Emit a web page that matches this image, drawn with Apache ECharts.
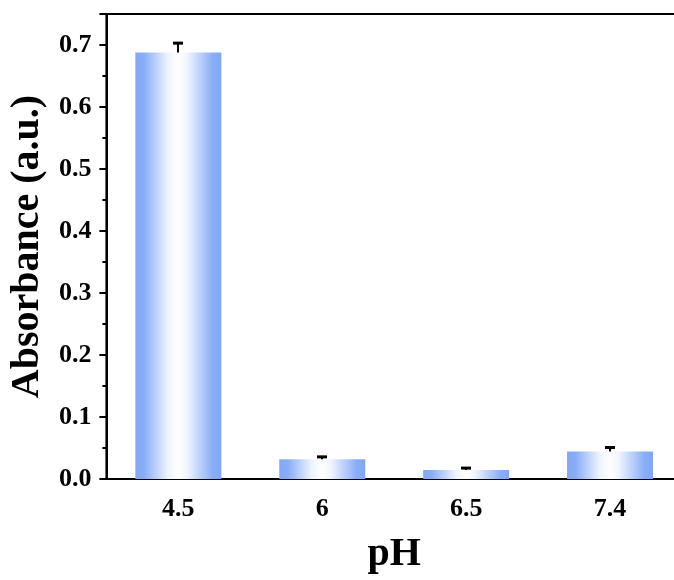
<!DOCTYPE html>
<html>
<head>
<meta charset="utf-8">
<script src="https://cdn.jsdelivr.net/npm/echarts@6/dist/echarts.min.js"></script>
<style>
  html, body { margin: 0; padding: 0; background: #fff; overflow: hidden; }
  /* 右边框在原图之外, 画布比窗口略宽 */
  #chart { width: 682px; height: 580px; }
</style>
</head>
<body>
<div id="chart"></div>
<script>
"use strict";

// pH 类别 / 吸光度均值 / 上误差
const phLabels = ["4.5", "6", "6.5", "7.4"];
const absorbance = [0.688, 0.032, 0.0144, 0.0444];
const errUp = [0.015, 0.0037, 0.0032, 0.0064];
const yTicks = [0, 0.1, 0.2, 0.3, 0.4, 0.5, 0.6, 0.7];

const FONT = "'Liberation Serif', 'Times New Roman', serif";

const barFill = new echarts.graphic.LinearGradient(0, 0, 1, 0, [
  { offset: 0, color: "#80a8f5" },
  { offset: 0.1, color: "#88aef6" },
  { offset: 0.38, color: "#eef4ff" },
  { offset: 0.5, color: "#ffffff" },
  { offset: 0.6, color: "#f0f5ff" },
  { offset: 0.9, color: "#88aef6" },
  { offset: 1, color: "#7fa7f5" },
]);

const chart = echarts.init(document.getElementById("chart"));
chart.setOption({
  animation: false,
  grid: { left: 102, right: 0, top: 14, bottom: 99, show: true, borderColor: "#000", borderWidth: 2 },
  xAxis: [
    {
      type: "category", data: phLabels,
      name: "pH", nameLocation: "middle", nameGap: 56,
      nameTextStyle: { fontFamily: FONT, fontWeight: "bold", fontSize: 40, color: "#000" },
      axisLine: { lineStyle: { color: "#000", width: 2 } },
      axisTick: { alignWithLabel: true, length: 7, lineStyle: { color: "#000", width: 2 } },
      axisLabel: { margin: 17, fontFamily: FONT, fontWeight: "bold", fontSize: 26, color: "#000" },
    },
    {
      // 类别边界处的小刻度
      type: "category", data: phLabels, position: "bottom",
      axisLine: { show: false },
      axisTick: { length: 4, lineStyle: { color: "#000", width: 2 } },
      axisLabel: { show: false },
    },
  ],
  yAxis: {
    type: "value", min: 0, max: 0.75, interval: 0.1,
    name: "Absorbance (a.u.)", nameLocation: "middle", nameGap: 57, nameRotate: 90,
    nameTextStyle: { fontFamily: FONT, fontWeight: "bold", fontSize: 40, color: "#000" },
    axisLine: { show: true, lineStyle: { color: "#000", width: 2 } },
    axisTick: { show: true, length: 7, lineStyle: { color: "#000", width: 2 } },
    minorTick: { show: true, splitNumber: 2, length: 4, lineStyle: { color: "#000", width: 2 } },
    splitLine: { show: false },
    axisLabel: {
      margin: 15, fontFamily: FONT, fontWeight: "bold", fontSize: 26, color: "#000",
      formatter: v => yTicks.some(t => Math.abs(t - v) < 1e-9) ? v.toFixed(1) : "",
    },
  },
  series: [
    {
      type: "bar", data: absorbance, barWidth: 86,
      itemStyle: { color: barFill },
    },
    {
      type: "custom",
      data: absorbance.map((v, i) => [i, v, v + errUp[i]]),
      renderItem: (params, api) => {
        const lo = api.coord([api.value(0), api.value(1)]);
        const hi = api.coord([api.value(0), api.value(2)]);
        const x = Math.round(lo[0]);
        return {
          type: "group",
          children: [
            { type: "line", shape: { x1: x, y1: lo[1], x2: x, y2: hi[1] },
              style: { stroke: "#000", lineWidth: 2 } },
            { type: "line", shape: { x1: x - 5, y1: hi[1], x2: x + 5, y2: hi[1] },
              style: { stroke: "#000", lineWidth: 3 } },
          ],
        };
      },
      z: 5,
    },
  ],
});
</script>
</body>
</html>
